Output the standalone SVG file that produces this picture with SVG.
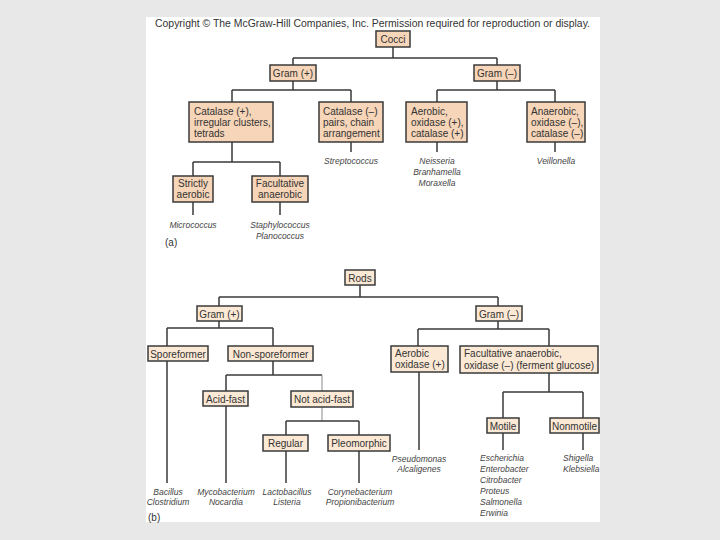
<svg xmlns="http://www.w3.org/2000/svg" width="720" height="540" viewBox="0 0 720 540">
<style>
.a{fill:#f6d5b8;stroke:#3a3a3a;stroke-width:1.5}
.b{fill:#fbe9d5;stroke:#3a3a3a;stroke-width:1.5}
text{font-family:"Liberation Sans",Arial,sans-serif;fill:#333}
.t{font-size:10px}
.c{text-anchor:middle}
.s{font-size:8.5px;font-style:italic;fill:#444;text-anchor:middle}
.sl{font-size:8.5px;font-style:italic;fill:#444}
#connectors path{fill:none;stroke:#3a3a3a;stroke-width:1.5}
#connectors path.g{stroke:#8a8a8a;stroke-width:1}
</style>
<rect x="0" y="0" width="720" height="540" fill="#e8e8e8"/>
<rect x="146" y="17" width="454" height="505" fill="#ffffff"/>
<text x="155" y="27" font-size="10" textLength="435" lengthAdjust="spacingAndGlyphs">Copyright © The McGraw-Hill Companies, Inc. Permission required for reproduction or display.</text>

<g id="connectors">
<path d="M393 47V58M293 58H497M293 58V65M497 58V65"/>
<path d="M293 81V90M232 90H351M232 90V102M351 90V102"/>
<path d="M497 81V90M437 90H555M437 90V102M555 90V102"/>
<path d="M232 142V162M193 162H280M193 162V176M280 162V176"/>
<path d="M351 142V152M437 142V152M555 142V152"/>
<path d="M193 202V215M280 202V215"/>
<path d="M360 285V297M219 297H498M219 297V306M498 297V306"/>
<path d="M219 321V328M167 328H273M167 328V346M273 328V346"/>
<path d="M498 321V329M418 329H549M418 329V346M549 329V346"/>
<path d="M273 361V375M226 375H322M226 375V391"/>
<path class="g" d="M322 375V391M322 407V421"/>
<path d="M286 421H359M286 421V435M359 421V435"/>
<path d="M167 361V483M226 406V483M286 451V483M359 451V483"/>
<path d="M419 372V450M549 373V392M503 392H583M503 392V418M583 392V418M503 433V450M583 433V450"/>
</g>

<g id="cocci"><rect class="a" x="376" y="31" width="34" height="16"/><text class="t c" x="393" y="43">Cocci</text></g>
<g id="gram-pos-a"><rect class="a" x="270" y="65" width="46" height="16"/><text class="t c" x="293" y="77">Gram (+)</text></g>
<g id="gram-neg-a"><rect class="a" x="474" y="65" width="46" height="16"/><text class="t c" x="497" y="77">Gram (–)</text></g>
<g id="catalase-pos"><rect class="a" x="189" y="102" width="84" height="40"/>
<text class="t" x="194" y="114.5">Catalase (+),</text><text class="t" x="194" y="125.5">irregular clusters,</text><text class="t" x="194" y="136.5">tetrads</text></g>
<g id="catalase-neg"><rect class="a" x="319" y="102" width="64" height="40"/>
<text class="t" x="323" y="114.5">Catalase (–)</text><text class="t" x="323" y="125.5">pairs, chain</text><text class="t" x="323" y="136.5">arrangement</text></g>
<g id="aerobic-a"><rect class="a" x="406" y="102" width="61" height="40"/>
<text class="t" x="411" y="114.5">Aerobic,</text><text class="t" x="411" y="125.5">oxidase (+),</text><text class="t" x="411" y="136.5">catalase (+)</text></g>
<g id="anaerobic-a"><rect class="a" x="527" y="102" width="58" height="40"/>
<text class="t" x="531" y="114.5">Anaerobic,</text><text class="t" x="531" y="125.5">oxidase (–),</text><text class="t" x="531" y="136.5">catalase (–)</text></g>
<g id="strictly"><rect class="a" x="173" y="176" width="40" height="26"/>
<text class="t c" x="193" y="187">Strictly</text><text class="t c" x="193" y="198">aerobic</text></g>
<g id="facultative-a"><rect class="a" x="252" y="176" width="56" height="26"/>
<text class="t c" x="280" y="187">Facultative</text><text class="t c" x="280" y="198">anaerobic</text></g>

<text class="s" x="351" y="164">Streptococcus</text>
<text class="s" x="437" y="164">Neisseria</text>
<text class="s" x="437" y="175">Branhamella</text>
<text class="s" x="437" y="186">Moraxella</text>
<text class="s" x="556" y="164">Veillonella</text>
<text class="s" x="193" y="228">Micrococcus</text>
<text class="s" x="280" y="228">Staphylococcus</text>
<text class="s" x="280" y="239">Planococcus</text>
<text class="t" x="165" y="246">(a)</text>

<g id="rods"><rect class="b" x="345" y="270" width="30" height="15"/><text class="t c" x="360" y="281.5">Rods</text></g>
<g id="gram-pos-b"><rect class="b" x="197" y="306" width="45" height="15"/><text class="t c" x="219.5" y="317.5">Gram (+)</text></g>
<g id="gram-neg-b"><rect class="b" x="476" y="306" width="46" height="15"/><text class="t c" x="499" y="317.5">Gram (–)</text></g>
<g id="sporeformer"><rect class="b" x="148" y="346" width="60" height="15"/><text class="t c" x="178" y="357.5">Sporeformer</text></g>
<g id="non-sporeformer"><rect class="b" x="228" y="346" width="85" height="15"/><text class="t c" x="270.5" y="357.5">Non-sporeformer</text></g>
<g id="aerobic-b"><rect class="b" x="391" y="346" width="57" height="26"/>
<text class="t" x="395" y="357">Aerobic</text><text class="t" x="395" y="368">oxidase (+)</text></g>
<g id="facultative-b"><rect class="b" x="460" y="346" width="138" height="27"/>
<text class="t" x="464" y="357">Facultative anaerobic,</text><text class="t" x="464" y="369">oxidase (–) (ferment glucose)</text></g>
<g id="acid-fast"><rect class="b" x="203" y="391" width="45" height="15"/><text class="t c" x="225.5" y="402.5">Acid-fast</text></g>
<g id="not-acid-fast"><rect class="b" x="291" y="391" width="62" height="16"/><text class="t c" x="322" y="403">Not acid-fast</text></g>
<g id="regular"><rect class="b" x="263" y="435" width="45" height="16"/><text class="t c" x="285.5" y="447">Regular</text></g>
<g id="pleomorphic"><rect class="b" x="328" y="435" width="62" height="16"/><text class="t c" x="359" y="447">Pleomorphic</text></g>
<g id="motile"><rect class="b" x="487" y="418" width="32" height="15"/><text class="t c" x="503" y="429.5">Motile</text></g>
<g id="nonmotile"><rect class="b" x="550" y="418" width="49" height="15"/><text class="t c" x="574.5" y="429.5">Nonmotile</text></g>

<text class="s" x="168" y="495">Bacillus</text>
<text class="s" x="168" y="505">Clostridium</text>
<text class="s" x="226" y="495">Mycobacterium</text>
<text class="s" x="226" y="505">Nocardia</text>
<text class="s" x="287" y="495">Lactobacillus</text>
<text class="s" x="287" y="505">Listeria</text>
<text class="s" x="360" y="495">Corynebacterium</text>
<text class="s" x="360" y="505">Propionibacterium</text>
<text class="t" x="148" y="521">(b)</text>
<text class="s" x="419" y="462">Pseudomonas</text>
<text class="s" x="419" y="472">Alcaligenes</text>
<text class="sl" x="480" y="461">Escherichia</text>
<text class="sl" x="480" y="472">Enterobacter</text>
<text class="sl" x="480" y="483">Citrobacter</text>
<text class="sl" x="480" y="494">Proteus</text>
<text class="sl" x="480" y="505">Salmonella</text>
<text class="sl" x="480" y="516">Erwinia</text>
<text class="sl" x="563" y="461">Shigella</text>
<text class="sl" x="563" y="472">Klebsiella</text>
</svg>
